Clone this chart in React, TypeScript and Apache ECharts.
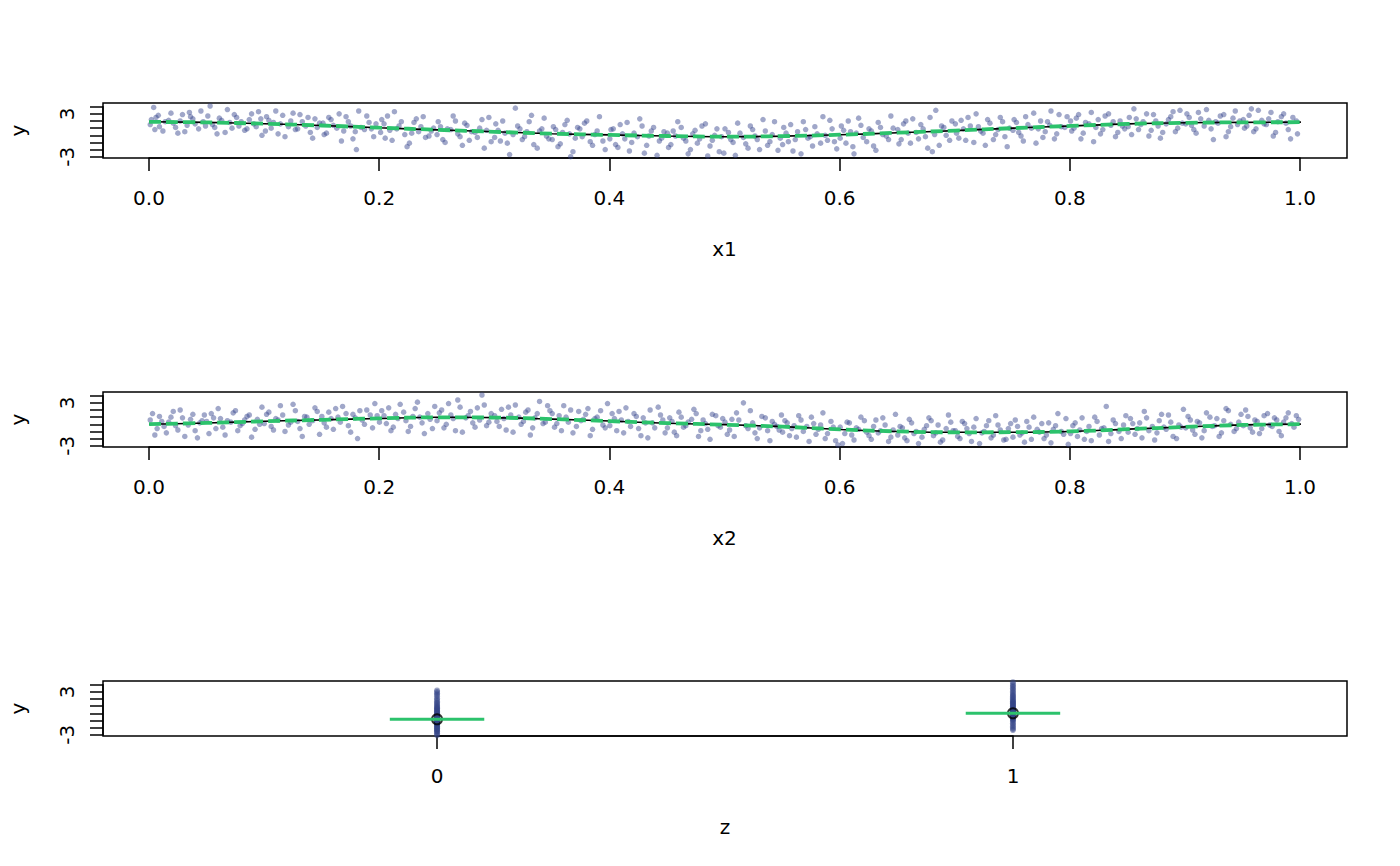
import React, { useEffect, useRef } from "react";
import * as echarts from "echarts";

// ---------- data ----------
const CURVE_X = [0, 0.05, 0.1, 0.15, 0.2, 0.25, 0.3, 0.35, 0.4, 0.45, 0.5, 0.55, 0.6, 0.65, 0.7, 0.75, 0.8, 0.85, 0.9, 0.95, 1.0];
const FIT1 = [1.9, 1.81, 1.62, 1.38, 1.05, 0.76, 0.5, 0.22, 0.06, -0.1, -0.2, -0.12, 0.07, 0.35, 0.65, 1.0, 1.3, 1.6, 1.76, 1.81, 1.84];
const TRUE1 = [1.88, 1.8, 1.62, 1.37, 1.06, 0.77, 0.49, 0.23, 0.05, -0.1, -0.19, -0.12, 0.08, 0.36, 0.66, 1.0, 1.31, 1.59, 1.75, 1.81, 1.83];
const FIT2 = [0.0, 0.18, 0.42, 0.62, 0.82, 0.98, 0.93, 0.72, 0.45, 0.15, -0.05, -0.33, -0.72, -1.0, -1.12, -1.12, -1.0, -0.68, -0.36, -0.08, 0.02];
const TRUE2 = [0.01, 0.19, 0.42, 0.63, 0.83, 0.97, 0.94, 0.73, 0.44, 0.16, -0.06, -0.34, -0.71, -1.0, -1.12, -1.11, -0.99, -0.69, -0.37, -0.09, 0.01];

const P1: [number, number][] = [
  [0.004, 3.9], [0.006, 2.5], [0.009, 1.2], [0.012, 0.6], [0.017, 2.1], [0.021, 1.7], [0.025, 0.3], [0.029, 2.9], [0.033, 1.4], [0.038, 2.3], [0.043, 0.9], [0.047, 1.9], [0.002, 2.2], [0.035, 3.2],
  [0.053, 4.1], [0.057, 1.1], [0.061, 2.4], [0.066, 0.4], [0.07, 1.8], [0.074, 2.9], [0.078, 1.3], [0.083, 0.7], [0.087, 2.2], [0.091, 1.6], [0.095, 3.3], [0.098, 0.0],
  [0.102, 2.6], [0.106, 1.0], [0.11, 3.4], [0.114, 1.6], [0.118, -0.2], [0.123, 2.0], [0.127, 0.8], [0.131, 2.9], [0.136, 1.3], [0.14, 0.4], [0.144, 2.3], [0.148, 1.7],
  [0.152, 0.1], [0.156, 2.5], [0.16, 1.4], [0.165, 3.0], [0.169, 0.6], [0.173, 1.9], [0.177, -0.5], [0.18, -2.0], [0.184, 1.1], [0.189, 2.7], [0.193, 0.9], [0.197, 1.6],
  [0.202, 2.2], [0.205, -0.4], [0.209, 0.7], [0.213, 3.3], [0.217, 1.3], [0.222, 0.1], [0.226, -1.1], [0.23, 1.8], [0.234, 0.5], [0.238, 2.6], [0.243, -0.1], [0.247, 1.0],
  [0.251, 1.9], [0.255, -0.6], [0.259, 0.9], [0.264, 2.7], [0.268, 0.2], [0.272, -1.4], [0.276, 1.4], [0.28, 0.5], [0.285, -0.3], [0.289, 2.2], [0.293, 0.7], [0.297, -0.9],
  [0.301, 1.6], [0.305, -0.8], [0.309, 0.3], [0.313, -2.7], [0.318, 3.8], [0.322, 0.9], [0.326, -0.2], [0.33, 1.9], [0.334, -1.3], [0.339, 0.6], [0.343, 2.4], [0.347, -0.5],
  [0.351, 1.2], [0.355, -1.6], [0.359, 0.4], [0.363, 2.1], [0.366, -3.0], [0.37, -0.4], [0.374, 0.9], [0.378, 1.7], [0.383, -0.9], [0.387, 0.1], [0.391, 2.6], [0.396, -2.0],
  [0.401, 0.8], [0.405, -1.3], [0.409, 1.5], [0.413, -0.5], [0.417, -2.2], [0.421, 0.3], [0.426, 2.3], [0.43, -2.5], [0.434, -0.1], [0.438, 1.1], [0.443, -0.8], [0.447, 0.5],
  [0.451, -1.7], [0.455, 0.6], [0.459, 1.9], [0.464, -0.4], [0.468, -2.6], [0.472, 0.2], [0.476, -1.1], [0.48, 1.3], [0.485, -2.9], [0.489, -0.7], [0.493, 0.9], [0.497, -0.2],
  [0.499, -2.5], [0.503, 0.4], [0.507, -1.0], [0.511, 1.7], [0.516, -0.3], [0.52, -1.8], [0.524, 0.8], [0.528, -0.6], [0.533, 2.2], [0.537, -1.4], [0.541, 0.1], [0.546, -2.1],
  [0.551, 1.1], [0.555, -0.9], [0.559, -2.2], [0.563, 0.5], [0.568, 1.9], [0.572, -0.4], [0.576, -1.5], [0.58, 0.2], [0.585, 2.6], [0.589, -0.7], [0.593, 0.9], [0.597, -1.9],
  [0.601, 1.3], [0.605, -1.1], [0.609, 0.5], [0.612, -2.6], [0.616, 2.4], [0.62, -0.3], [0.625, 0.9], [0.629, -1.5], [0.633, 1.8], [0.637, 0.1], [0.642, -0.6], [0.646, 1.0],
  [0.651, -1.2], [0.655, 1.6], [0.659, 0.3], [0.663, 2.3], [0.668, -0.5], [0.672, 0.9], [0.676, -1.8], [0.68, -2.3], [0.683, 3.5], [0.688, 1.3], [0.692, 0.0], [0.697, 2.0],
  [0.701, 0.3], [0.705, 2.1], [0.709, -0.7], [0.713, 1.3], [0.718, 3.0], [0.722, 0.6], [0.726, -1.4], [0.73, 1.7], [0.735, 0.1], [0.739, 2.5], [0.743, -0.2], [0.747, 1.0],
  [0.751, 2.2], [0.755, 0.4], [0.759, -0.8], [0.763, 1.5], [0.768, 3.1], [0.772, 0.9], [0.776, -0.3], [0.78, 1.9], [0.783, 3.4], [0.788, 0.2], [0.792, 1.2], [0.797, 2.6],
  [0.801, 0.6], [0.805, 2.4], [0.809, -0.5], [0.813, 1.8], [0.818, 3.2], [0.822, 1.1], [0.826, 0.2], [0.83, 2.7], [0.835, 1.4], [0.839, -0.2], [0.843, 2.0], [0.847, 0.9],
  [0.851, 2.5], [0.855, 3.7], [0.859, 0.8], [0.863, 1.9], [0.868, -0.1], [0.872, 2.9], [0.876, 1.3], [0.88, 0.4], [0.885, 2.2], [0.889, 3.3], [0.893, 1.0], [0.897, 1.7],
  [0.901, 3.0], [0.905, 1.4], [0.909, 0.3], [0.913, 2.3], [0.918, 3.6], [0.922, 0.9], [0.926, 1.9], [0.93, 2.7], [0.935, -0.2], [0.939, 1.2], [0.943, 3.4], [0.947, 2.0],
  [0.951, 1.0], [0.955, 2.8], [0.959, 0.5], [0.963, 3.5], [0.968, 1.6], [0.972, 2.3], [0.976, -0.1], [0.98, 1.9], [0.985, 3.0], [0.989, 0.8], [0.993, 2.5], [0.997, 0.2],
  [0.001, 1.5], [0.005, 0.8], [0.008, 2.8], [0.014, 1.9], [0.019, 3.1], [0.023, 1.1], [0.027, 2.0], [0.031, 0.5], [0.036, 2.6], [0.04, 1.6], [0.045, 3.4], [0.049, 1.3],
  [0.051, 2.7], [0.055, 1.5], [0.059, 0.2], [0.063, 2.1], [0.068, 3.6], [0.072, 1.0], [0.076, 2.5], [0.08, 1.9], [0.085, 0.9], [0.089, 3.0], [0.093, 1.2], [0.097, 2.3],
  [0.101, 0.6], [0.104, 2.1], [0.108, 1.8], [0.112, 0.2], [0.116, 2.8], [0.121, 1.2], [0.125, 3.1], [0.129, 0.9], [0.133, 1.9], [0.138, 2.5], [0.142, -0.4], [0.146, 1.1],
  [0.151, 1.7], [0.154, 0.3], [0.158, 2.2], [0.163, 1.0], [0.167, -0.8], [0.171, 2.6], [0.175, 1.3], [0.179, 0.5], [0.182, 3.4], [0.187, 0.8], [0.191, 1.8], [0.195, -0.2],
  [0.201, 0.4], [0.204, 1.6], [0.207, 2.7], [0.211, -0.7], [0.215, 0.9], [0.219, 1.9], [0.224, -1.6], [0.228, 0.3], [0.232, 2.3], [0.236, 1.2], [0.24, -0.3], [0.245, 0.6],
  [0.25, 0.1], [0.253, 1.2], [0.257, -1.0], [0.262, 0.8], [0.266, 2.0], [0.27, -0.2], [0.274, 1.7], [0.278, -0.7], [0.283, 0.4], [0.287, 1.0], [0.291, -1.8], [0.295, 2.5],
  [0.3, -0.3], [0.303, 0.7], [0.307, 2.0], [0.311, -1.1], [0.316, 0.1], [0.32, 1.3], [0.324, -0.6], [0.328, 0.5], [0.332, 2.8], [0.337, -1.8], [0.341, 0.9], [0.345, -0.1],
  [0.35, -0.6], [0.353, 0.8], [0.357, -1.2], [0.361, 1.5], [0.365, 0.2], [0.368, -2.3], [0.372, 1.1], [0.376, -0.2], [0.38, 2.0], [0.385, -1.4], [0.389, 0.6], [0.394, -0.8],
  [0.4, -0.5], [0.403, 0.9], [0.407, -1.7], [0.411, 0.2], [0.415, 1.8], [0.419, -1.0], [0.424, -0.2], [0.428, 1.3], [0.432, -1.4], [0.436, 0.6], [0.441, -2.8], [0.445, -0.4],
  [0.45, 0.3], [0.453, -1.3], [0.457, -0.1], [0.462, 1.1], [0.466, -0.8], [0.47, -2.0], [0.474, 0.7], [0.478, -0.5], [0.483, 1.6], [0.487, -1.5], [0.491, 0.0], [0.495, -2.3],
  [0.5, 0.9], [0.505, -0.6], [0.509, -2.8], [0.513, 0.3], [0.518, -1.2], [0.522, 1.3], [0.526, -0.1], [0.53, -2.0], [0.535, 0.6], [0.539, -0.9], [0.543, 1.9], [0.548, -0.4],
  [0.55, -1.3], [0.553, 0.3], [0.557, 1.5], [0.561, -0.6], [0.566, -2.6], [0.57, 0.8], [0.574, -0.2], [0.578, 1.2], [0.583, -1.1], [0.587, 0.0], [0.591, 2.1], [0.595, -0.9],
  [0.6, -0.4], [0.603, 0.7], [0.607, 2.0], [0.611, -1.6], [0.614, 0.3], [0.618, 1.4], [0.623, -0.9], [0.627, 0.6], [0.631, -2.1], [0.635, 1.1], [0.64, -0.1], [0.644, 2.7],
  [0.65, 0.8], [0.653, -0.6], [0.657, 2.0], [0.661, -1.1], [0.666, 0.4], [0.67, 1.5], [0.674, -0.2], [0.678, 2.5], [0.682, 0.1], [0.686, -1.4], [0.69, 1.1], [0.695, -0.7],
  [0.7, 1.6], [0.703, -0.4], [0.707, 0.9], [0.711, 2.5], [0.716, -1.0], [0.72, 1.2], [0.724, 0.3], [0.728, 2.2], [0.733, -0.6], [0.737, 0.8], [0.741, 1.9], [0.745, -1.6],
  [0.75, 0.7], [0.753, 1.8], [0.757, -0.1], [0.761, 2.6], [0.766, 1.0], [0.77, -1.1], [0.774, 2.0], [0.778, 0.5], [0.782, 1.4], [0.786, -0.5], [0.79, 2.9], [0.795, 1.1],
  [0.8, 2.0], [0.803, 1.0], [0.807, 2.9], [0.811, 0.3], [0.816, 1.6], [0.82, -0.9], [0.824, 2.2], [0.828, 0.8], [0.833, 3.0], [0.837, 1.9], [0.841, 0.4], [0.845, 1.3],
  [0.85, 1.2], [0.853, 0.1], [0.857, 2.3], [0.861, 1.5], [0.866, 3.0], [0.87, 0.7], [0.874, 2.0], [0.878, -0.4], [0.883, 1.6], [0.887, 2.6], [0.891, 0.5], [0.895, 3.5],
  [0.9, 1.6], [0.903, 2.5], [0.907, 0.8], [0.911, 3.2], [0.916, 1.3], [0.92, 2.1], [0.924, -0.6], [0.928, 1.7], [0.933, 2.9], [0.937, 0.5], [0.941, 2.4], [0.945, 1.5],
  [0.95, 2.2], [0.953, 1.3], [0.957, 3.7], [0.961, 0.9], [0.966, 2.1], [0.97, 1.5], [0.974, 3.2], [0.978, 0.4], [0.983, 2.6], [0.987, 1.7], [0.991, -0.5], [0.996, 2.0],
];

const P2: [number, number][] = [
  [0.003, 1.5], [0.007, -0.6], [0.011, 0.4], [0.015, -1.2], [0.019, 1.0], [0.023, -0.2], [0.027, 2.0], [0.031, -1.7], [0.036, 0.7], [0.04, -0.9], [0.044, 0.2], [0.048, 1.3],
  [0.052, -1.3], [0.056, 0.9], [0.06, 2.2], [0.064, -0.4], [0.068, 0.5], [0.073, 1.6], [0.077, -0.9], [0.081, 0.1], [0.085, 1.1], [0.089, -1.8], [0.094, 0.7], [0.098, 2.4],
  [0.102, 1.4], [0.106, -0.3], [0.11, 0.8], [0.114, 2.6], [0.118, -1.0], [0.123, 0.3], [0.127, 1.9], [0.131, -0.6], [0.135, 1.1], [0.139, 0.0], [0.144, 2.3], [0.148, -1.4],
  [0.152, 0.2], [0.156, 1.7], [0.16, -0.7], [0.164, 1.0], [0.168, 2.5], [0.173, -0.2], [0.177, 1.4], [0.181, -2.0], [0.185, 0.6], [0.189, 2.0], [0.194, -0.5], [0.198, 1.2],
  [0.202, 1.9], [0.206, 0.1], [0.21, -0.9], [0.214, 1.4], [0.218, 2.8], [0.223, 0.5], [0.227, -0.3], [0.231, 2.2], [0.235, 1.0], [0.239, -1.3], [0.244, 0.7], [0.248, 2.5],
  [0.252, 1.6], [0.256, -0.5], [0.26, 2.9], [0.264, 0.8], [0.268, 3.4], [0.272, -1.1], [0.277, 1.2], [0.281, 0.2], [0.285, 2.3], [0.289, 4.1], [0.293, -0.2], [0.297, 1.5],
  [0.302, 0.4], [0.306, 2.1], [0.31, -0.8], [0.314, 1.3], [0.318, 2.7], [0.323, 0.0], [0.327, 1.7], [0.331, -1.5], [0.335, 0.9], [0.339, 3.2], [0.344, 0.3], [0.348, 1.9],
  [0.352, -0.4], [0.356, 1.2], [0.36, 2.6], [0.364, 0.3], [0.368, -1.2], [0.373, 1.8], [0.377, 0.7], [0.381, 2.2], [0.385, -0.7], [0.389, 1.0], [0.394, -0.1], [0.398, 2.9],
  [0.402, 1.5], [0.406, -0.9], [0.41, 0.6], [0.414, 2.3], [0.418, -0.3], [0.423, 1.1], [0.427, -1.6], [0.431, 0.2], [0.435, 2.0], [0.439, -0.5], [0.444, 1.3], [0.448, -1.2],
  [0.452, 0.9], [0.456, -1.1], [0.46, 1.7], [0.464, -0.4], [0.468, 0.3], [0.473, 2.1], [0.477, -1.7], [0.481, 0.6], [0.485, -0.7], [0.489, 1.4], [0.494, -0.2], [0.498, 0.8],
  [0.502, -1.4], [0.506, 0.7], [0.51, 1.6], [0.516, 3.0], [0.52, -0.6], [0.524, 0.2], [0.528, -2.0], [0.532, 1.1], [0.537, -0.9], [0.541, 0.4], [0.545, -0.3], [0.549, 1.3],
  [0.552, 0.5], [0.556, -1.6], [0.56, -0.2], [0.564, 1.2], [0.568, -1.0], [0.573, -2.4], [0.577, 0.1], [0.581, -0.7], [0.585, 1.6], [0.589, -1.3], [0.594, -0.4], [0.598, -2.9],
  [0.602, -2.7], [0.606, 0.3], [0.61, -1.5], [0.614, -0.5], [0.618, 1.0], [0.623, -1.1], [0.627, -2.1], [0.631, 0.6], [0.635, -0.9], [0.639, -0.1], [0.644, -1.8], [0.648, 1.4],
  [0.652, -0.3], [0.656, -1.9], [0.66, 0.7], [0.664, -1.3], [0.668, -2.7], [0.673, -0.7], [0.677, 0.9], [0.681, -1.6], [0.685, -0.1], [0.689, -2.2], [0.694, 1.3], [0.698, -0.9],
  [0.702, -1.7], [0.706, 0.4], [0.71, -0.6], [0.714, -2.4], [0.718, 0.8], [0.723, -1.2], [0.727, -0.2], [0.731, -1.9], [0.735, 1.2], [0.739, -0.8], [0.744, -2.1], [0.748, 0.1],
  [0.752, 0.6], [0.756, -1.5], [0.76, -2.5], [0.764, -0.4], [0.768, 1.0], [0.773, -1.1], [0.777, -2.0], [0.781, 0.2], [0.785, -0.7], [0.789, 1.5], [0.794, -1.4], [0.798, -2.8],
  [0.802, -0.2], [0.806, -1.7], [0.81, 0.9], [0.814, -1.0], [0.818, -2.3], [0.823, 0.4], [0.827, -0.6], [0.831, 2.5], [0.835, -1.3], [0.839, 0.1], [0.844, -2.0], [0.848, 1.2],
  [0.852, 0.8], [0.856, -1.4], [0.86, 0.2], [0.864, 1.8], [0.868, -0.9], [0.873, -2.2], [0.877, 0.5], [0.881, -0.4], [0.885, 1.3], [0.889, -1.7], [0.894, -0.1], [0.898, 2.1],
  [0.902, 1.1], [0.906, -0.8], [0.91, 0.4], [0.914, -1.9], [0.918, 1.6], [0.923, -0.3], [0.927, 0.8], [0.931, -1.2], [0.935, 2.2], [0.939, 0.0], [0.944, -0.6], [0.948, 1.4],
  [0.952, 2.0], [0.956, -0.5], [0.96, 0.6], [0.964, -1.3], [0.968, 1.2], [0.973, -0.1], [0.977, 0.9], [0.981, -1.0], [0.985, 0.3], [0.989, 1.6], [0.994, -0.4], [0.998, 0.7],
  [0.001, 0.6], [0.005, -1.5], [0.009, 1.1], [0.013, -0.3], [0.017, 0.3], [0.021, 1.8], [0.025, -0.8], [0.029, 0.9], [0.034, -0.1], [0.038, 1.4], [0.042, -1.9], [0.046, 0.5],
  [0.05, 0.4], [0.054, 1.5], [0.058, -0.6], [0.062, 0.8], [0.066, -1.5], [0.071, 0.3], [0.075, 1.9], [0.079, -0.2], [0.083, 0.6], [0.087, 1.3], [0.092, -0.7], [0.096, 0.0],
  [0.1, 0.1], [0.104, 1.7], [0.108, -0.8], [0.112, 0.6], [0.116, 1.3], [0.121, -0.1], [0.125, 2.8], [0.129, 0.4], [0.133, -1.7], [0.137, 1.0], [0.142, 0.5], [0.146, 1.8],
  [0.15, 1.1], [0.154, -0.4], [0.158, 0.8], [0.162, 2.2], [0.166, 0.3], [0.171, 1.5], [0.175, -1.1], [0.179, 0.9], [0.183, 1.9], [0.187, 0.0], [0.192, 1.3], [0.196, 2.9],
  [0.2, 0.3], [0.204, 1.2], [0.208, 2.3], [0.212, -0.4], [0.216, 0.8], [0.221, 1.7], [0.225, -1.0], [0.229, 1.1], [0.233, 3.1], [0.237, 0.2], [0.242, 1.5], [0.246, -0.6],
  [0.25, 0.5], [0.254, 2.0], [0.258, 0.0], [0.262, 1.3], [0.266, -0.9], [0.27, 2.4], [0.275, 0.9], [0.279, 1.8], [0.283, -0.4], [0.287, 0.6], [0.291, 2.7], [0.295, 0.3],
  [0.3, 1.2], [0.304, -0.3], [0.308, 0.8], [0.312, 2.4], [0.316, -1.1], [0.321, 1.0], [0.325, 0.4], [0.329, 2.0], [0.333, -0.5], [0.337, 1.5], [0.342, 0.1], [0.346, 2.6],
  [0.35, 1.5], [0.354, 0.1], [0.358, -0.9], [0.362, 1.0], [0.366, 2.0], [0.371, -0.3], [0.375, 0.5], [0.379, 1.4], [0.383, -1.6], [0.387, 0.8], [0.392, 1.9], [0.396, -0.5],
  [0.4, -0.2], [0.404, 0.8], [0.408, 1.8], [0.412, -1.2], [0.416, 0.4], [0.421, 1.5], [0.425, -0.6], [0.429, 0.9], [0.433, -1.9], [0.437, 0.2], [0.442, 2.4], [0.446, 0.6],
  [0.45, -0.5], [0.454, 0.4], [0.458, -1.6], [0.462, 1.0], [0.466, -0.2], [0.471, 0.7], [0.475, 1.5], [0.479, -0.9], [0.483, 0.1], [0.487, -2.1], [0.492, 1.2], [0.496, -0.4],
  [0.5, 0.3], [0.504, -0.8], [0.508, -1.7], [0.512, 0.6], [0.518, -0.2], [0.522, 1.9], [0.526, -1.2], [0.53, -0.5], [0.535, 0.9], [0.539, -2.3], [0.543, 0.0], [0.547, -0.8],
  [0.55, -1.1], [0.554, 0.2], [0.558, -0.6], [0.562, -1.8], [0.566, 0.6], [0.571, -0.3], [0.575, 1.0], [0.579, -1.4], [0.583, -0.1], [0.587, -2.0], [0.592, 0.4], [0.596, -2.3],
  [0.6, -0.4], [0.604, -1.3], [0.608, 0.2], [0.612, -2.2], [0.616, -0.7], [0.621, 0.5], [0.625, -1.6], [0.629, -0.3], [0.633, -1.2], [0.637, 0.9], [0.642, -2.4], [0.646, -0.8],
  [0.65, -1.5], [0.654, -0.5], [0.658, -2.3], [0.662, 0.2], [0.666, -1.0], [0.671, -1.8], [0.675, -0.2], [0.679, 0.5], [0.683, -1.2], [0.687, -2.5], [0.692, -0.6], [0.696, 0.3],
  [0.7, -0.9], [0.704, -2.0], [0.708, 0.1], [0.712, -1.3], [0.716, -0.4], [0.721, -2.7], [0.725, -1.0], [0.729, 0.5], [0.733, -1.5], [0.737, -0.1], [0.742, -2.2], [0.746, -0.6],
  [0.75, -1.8], [0.754, -0.3], [0.758, -1.2], [0.762, 0.4], [0.766, -2.1], [0.771, -0.7], [0.775, 0.1], [0.779, -1.5], [0.783, -2.6], [0.787, -0.2], [0.792, -1.0], [0.796, 0.8],
  [0.8, -1.3], [0.804, 0.2], [0.808, -0.8], [0.812, -2.1], [0.816, -0.3], [0.821, 1.0], [0.825, -1.5], [0.829, -0.5], [0.833, -2.4], [0.837, 0.6], [0.842, -1.0], [0.846, -0.1],
  [0.85, -1.1], [0.854, 0.1], [0.858, -0.6], [0.862, -1.9], [0.866, 0.9], [0.871, -0.3], [0.875, -1.2], [0.879, 1.4], [0.883, -0.7], [0.887, 0.3], [0.892, -2.0], [0.896, -0.4],
  [0.9, -0.5], [0.904, 0.6], [0.908, -1.4], [0.912, 0.2], [0.916, -0.9], [0.921, 1.0], [0.925, -0.2], [0.929, -1.7], [0.933, 0.5], [0.937, 1.9], [0.942, -1.0], [0.946, 0.3],
  [0.95, -0.2], [0.954, 1.1], [0.958, -1.1], [0.962, 0.4], [0.966, -0.6], [0.971, 1.5], [0.975, -0.3], [0.979, 0.6], [0.983, -1.6], [0.987, 0.9], [0.992, 0.1], [0.996, 1.2],
];

const Z_LEVELS = [0, 1];
const Z0_Y = [-3.1, -2.9, -2.8, -2.6, -2.5, -2.4, -2.3, -2.2, -2.1, -2.0, -1.9, -1.8, -1.7, -1.6, -1.5, -1.45, -1.4, -1.3, -1.25, -1.2, -1.15, -1.1, -1.05, -1.0, -0.95, -0.9, -0.85, -0.8, -0.75, -0.7, -0.65, -0.6, -0.55, -0.5, -0.4, -0.35, -0.3, -0.2, -0.1, 0.0, 0.1, 0.2, 0.3, 0.4, 0.5, 0.6, 0.7, 0.8, 0.9, 1.05, 1.2, 1.35, 1.5, 1.7, 1.9, 2.1, 2.4, 2.6, 2.8, 3.0, 3.2];
const Z1_Y = [4.35, 4.1, 3.9, 3.7, 3.5, 3.3, 3.1, 2.9, 2.7, 2.55, 2.4, 2.25, 2.1, 1.95, 1.8, 1.7, 1.6, 1.5, 1.4, 1.3, 1.2, 1.1, 1.0, 0.9, 0.8, 0.7, 0.6, 0.5, 0.45, 0.4, 0.3, 0.25, 0.2, 0.15, 0.1, 0.05, 0.0, -0.05, -0.1, -0.2, -0.3, -0.4, -0.5, -0.6, -0.7, -0.8, -0.9, -1.0, -1.2, -1.4, -1.6, -1.8, -2.0, -2.2, -2.35];
const Z_MEANS = [-0.84, 0.0];

const Y_TICK_LABELS = [-3, 3];

// ---------- styling ----------
const FONT = "DejaVu Sans";
const PT_COLOR = "rgba(50,64,138,0.58)";
const Z_COLOR = "rgba(52,68,135,0.6)";
const GREEN = "#2cc26c";
const TOPS = [103, 392, 681];
const BOX_H = 55;
const Y_MIN = -3.18;
const Y_MAX = 4.52;
const PX_PER_UNIT = BOX_H / (Y_MAX - Y_MIN);
const SEG_HALF = 0.082;

export default function App() {
  const ref = useRef<HTMLDivElement>(null);

  useEffect(() => {
    if (!ref.current) return;
    const chart = echarts.init(ref.current, null, { renderer: "svg" });

    const grids: any[] = [];
    const xAxes: any[] = [];
    const yAxes: any[] = [];
    const series: any[] = [];

    const panels = [
      { name: "x1", xmin: -0.04, xmax: 1.04, tickLeft: 149, tickW: 1151, tmin: 0, tmax: 1, interval: 0.2, fmt: (v: number) => v.toFixed(1) },
      { name: "x2", xmin: -0.04, xmax: 1.04, tickLeft: 149, tickW: 1151, tmin: 0, tmax: 1, interval: 0.2, fmt: (v: number) => v.toFixed(1) },
      { name: "z", xmin: -0.58, xmax: 1.58, tickLeft: 437, tickW: 576, tmin: Z_LEVELS[0], tmax: Z_LEVELS[1], interval: 1, fmt: (v: number) => String(Math.round(v)) },
    ];

    const textBase = { fontFamily: FONT, fontSize: 20, color: "#000" };

    panels.forEach((p, i) => {
      const top = TOPS[i];
      const g = i * 3;
      grids.push({ left: 103, right: 53, top, height: BOX_H, show: true, borderColor: "#000", borderWidth: 1.5, backgroundColor: "transparent", outerBoundsMode: "none", containLabel: false });
      grids.push({ left: p.tickLeft, width: p.tickW, top, height: BOX_H, show: false, outerBoundsMode: "none", containLabel: false });
      grids.push({ left: 103, width: 100, top: top + (Y_MAX - 4) * PX_PER_UNIT, height: 7 * PX_PER_UNIT, show: false, outerBoundsMode: "none", containLabel: false });

      xAxes.push({
        gridIndex: g, type: "value", min: p.xmin, max: p.xmax,
        axisLine: { show: false }, axisTick: { show: false }, axisLabel: { show: false }, splitLine: { show: false },
      });
      yAxes.push({
        gridIndex: g, type: "value", min: Y_MIN, max: Y_MAX,
        axisLine: { show: false }, axisTick: { show: false }, axisLabel: { show: false }, splitLine: { show: false },
        name: "y", nameLocation: "middle", nameGap: 85, nameRotate: 90,
        nameTextStyle: { ...textBase, align: "center", verticalAlign: "middle" },
      });

      xAxes.push({
        gridIndex: g + 1, type: "value", min: p.tmin, max: p.tmax, interval: p.interval,
        axisLine: { show: true, lineStyle: { color: "#000", width: 1.5 } },
        axisTick: { show: true, length: 13, lineStyle: { color: "#000", width: 1.5 } },
        axisLabel: { ...textBase, margin: 40, verticalAlign: "middle", formatter: p.fmt },
        splitLine: { show: false },
        name: p.name, nameLocation: "middle", nameGap: 91, nameMoveOverlap: false,
        nameTextStyle: { ...textBase, verticalAlign: "middle" },
      });
      yAxes.push({ gridIndex: g + 1, type: "value", min: 0, max: 1, show: false });

      xAxes.push({ gridIndex: g + 2, type: "value", min: 0, max: 1, show: false });
      yAxes.push({
        gridIndex: g + 2, type: "value", min: -3, max: 4, interval: 1,
        axisLine: { show: true, lineStyle: { color: "#000", width: 1.5 } },
        axisTick: { show: true, length: 13, lineStyle: { color: "#000", width: 1.5 } },
        axisLabel: {
          ...textBase, margin: 36, rotate: 90, align: "center", verticalAlign: "middle",
          formatter: (v: number) => (Y_TICK_LABELS.includes(Math.round(v)) && Math.abs(v - Math.round(v)) < 1e-9 ? String(Math.round(v)) : ""),
        },
        splitLine: { show: false },
      });
    });

    const curveData = (ys: number[]) => CURVE_X.map((x, k) => [x, ys[k]]);

    const addSmooth = (idx: number, pts: [number, number][], fit: number[], truth: number[]) => {
      series.push({ type: "scatter", xAxisIndex: idx, yAxisIndex: idx, data: pts, symbolSize: 5.5, itemStyle: { color: PT_COLOR }, silent: true });
      series.push({ type: "line", xAxisIndex: idx, yAxisIndex: idx, data: curveData(fit), symbol: "none", smooth: 0.4, lineStyle: { color: "#000", width: 1.6 }, silent: true });
      series.push({ type: "line", xAxisIndex: idx, yAxisIndex: idx, data: curveData(truth), symbol: "none", smooth: 0.4, lineStyle: { color: GREEN, width: 3.8, type: [12, 5] }, silent: true });
    };
    addSmooth(0, P1, FIT1, TRUE1);
    addSmooth(3, P2, FIT2, TRUE2);

    const zIdx = 6;
    [Z0_Y, Z1_Y].forEach((ys, k) => {
      series.push({ type: "scatter", xAxisIndex: zIdx, yAxisIndex: zIdx, data: ys.map((y) => [Z_LEVELS[k], y]), symbolSize: 6, itemStyle: { color: Z_COLOR }, silent: true });
    });
    Z_LEVELS.forEach((z, k) => {
      series.push({
        type: "line", xAxisIndex: zIdx, yAxisIndex: zIdx, symbol: "none",
        data: [[z - SEG_HALF, Z_MEANS[k]], [z + SEG_HALF, Z_MEANS[k]]],
        lineStyle: { color: GREEN, width: 3 }, silent: true,
      });
    });
    series.push({
      type: "scatter", xAxisIndex: zIdx, yAxisIndex: zIdx,
      data: Z_LEVELS.map((z, k) => [z, Z_MEANS[k]]),
      symbol: "circle", symbolSize: 10,
      itemStyle: { color: "rgba(0,0,0,0)", borderColor: "#000", borderWidth: 2 }, silent: true,
    });

    chart.setOption({
      animation: false,
      backgroundColor: "#fff",
      textStyle: { fontFamily: FONT },
      grid: grids,
      xAxis: xAxes,
      yAxis: yAxes,
      series,
    });

    return () => chart.dispose();
  }, []);

  return <div ref={ref} style={{ position: "absolute", left: 0, top: 0, width: 1400, height: 866 }} />;
}
